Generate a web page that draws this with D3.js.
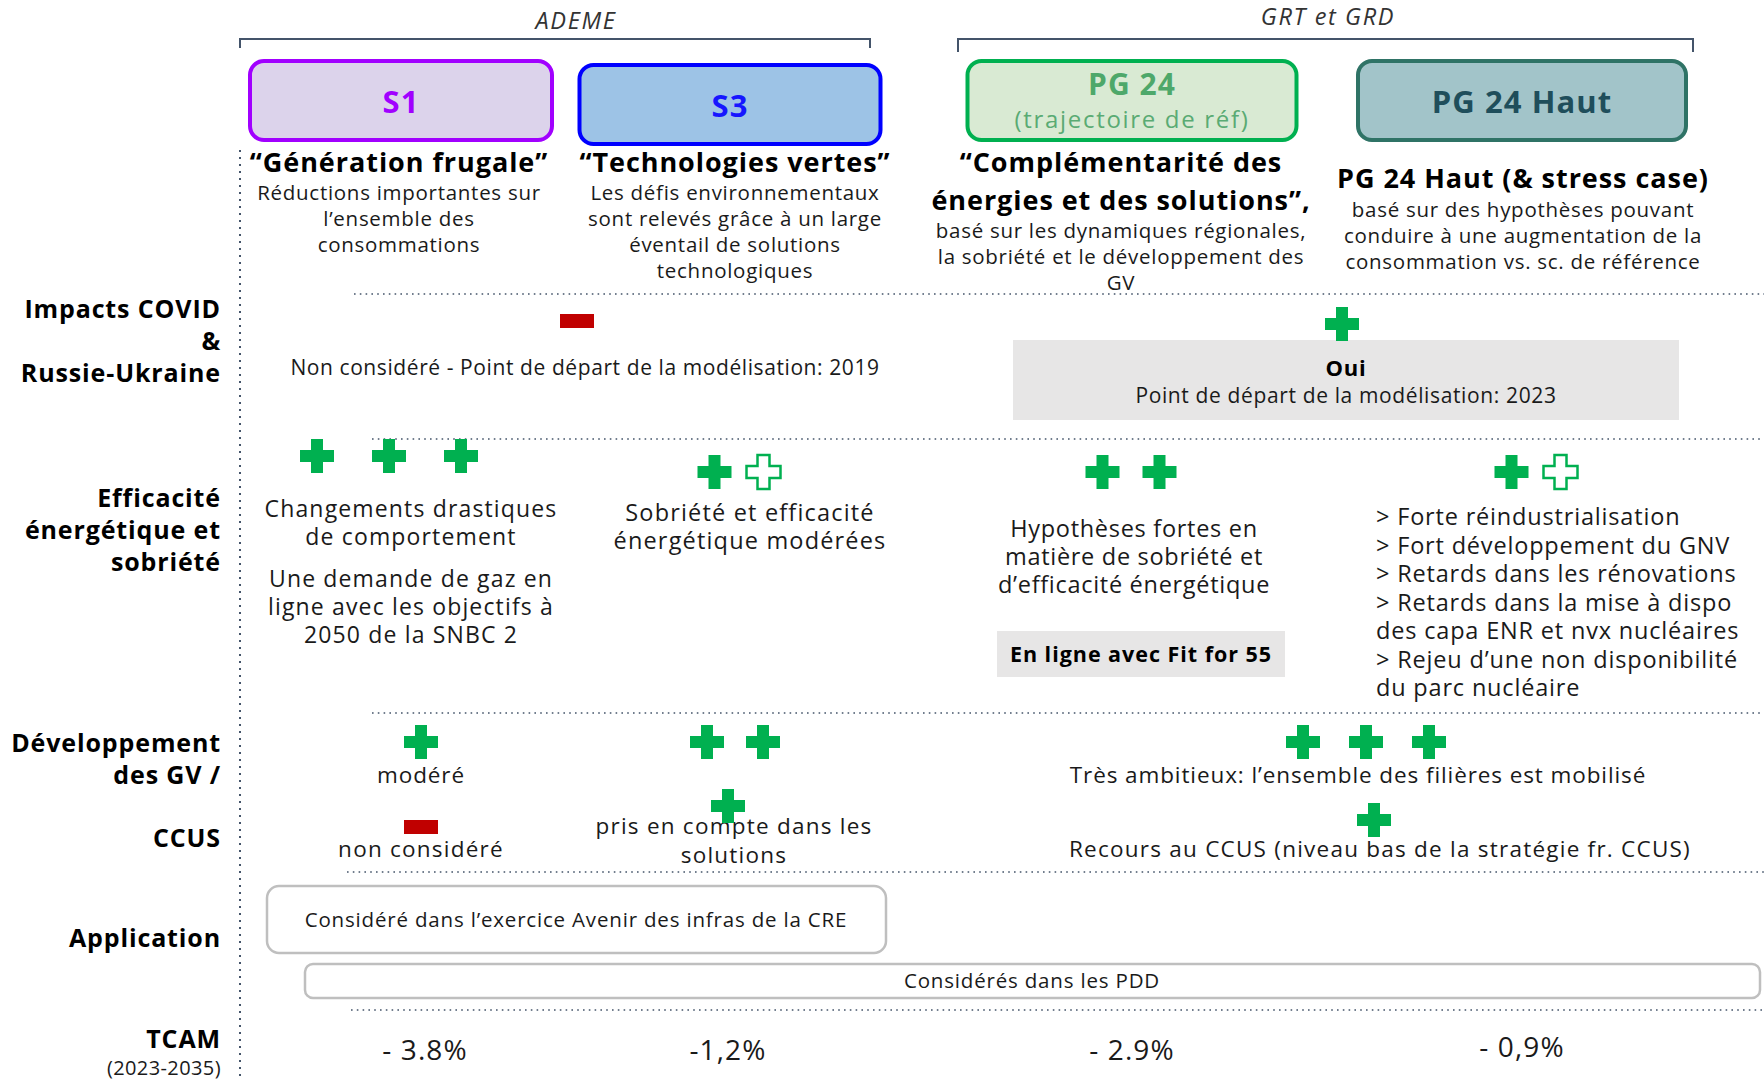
<!DOCTYPE html>
<html>
<head>
<meta charset="utf-8">
<script src="https://cdn.jsdelivr.net/npm/d3@7"></script>
<style>
  body { margin: 0; background: #fff; }
  svg { display: block; font-family: "Open Sans", sans-serif; }
</style>
</head>
<body>
<svg id="chart"></svg>
<script>
// --- data ---
const scenarios = ['S1', 'S3', 'PG 24', 'PG 24 Haut']
const boxSubtitles = ['', '', '(trajectoire de réf)', '']
const groupNames = ['ADEME', 'GRT et GRD']
const groupMembers = [['S1', 'S3'], ['PG 24', 'PG 24 Haut']]

const titles = [
  ['“Génération frugale”'],
  ['“Technologies vertes”'],
  ['“Complémentarité des', 'énergies et des solutions”,'],
  ['PG 24 Haut (& stress case)']
]
const descriptions = [
  ['Réductions importantes sur', 'l’ensemble des', 'consommations'],
  ['Les défis environnementaux', 'sont relevés grâce à un large', 'éventail de solutions', 'technologiques'],
  ['basé sur les dynamiques régionales,', 'la sobriété et le développement des', 'GV'],
  ['basé sur des hypothèses pouvant', 'conduire à une augmentation de la', 'consommation vs. sc. de référence']
]

const rowLabels = [
  ['Impacts COVID', '&', 'Russie-Ukraine'],
  ['Efficacité', 'énergétique et', 'sobriété'],
  ['Développement', 'des GV /'],
  ['CCUS'],
  ['Application'],
  ['TCAM']
]

// COVID row, per group
const covidSigns = ['minus', 'plus']
const covidTexts = [
  ['Non considéré - Point de départ de la modélisation: 2019'],
  ['Oui', 'Point de départ de la modélisation: 2023']
]

// efficiency row: 1 = full plus, 0 = half (outlined) plus
const efficacitePlus = [[1, 1, 1], [1, 0], [1, 1], [1, 0]]
const efficaciteTexts = [
  ['Changements drastiques', 'de comportement'],
  ['Sobriété et efficacité', 'énergétique modérées'],
  ['Hypothèses fortes en', 'matière de sobriété et', 'd’efficacité énergétique'],
  ['> Forte réindustrialisation', '> Fort développement du GNV', '> Retards dans les rénovations',
   '> Retards dans la mise à dispo', 'des capa ENR et nvx nucléaires', '> Rejeu d’une non disponibilité',
   'du parc nucléaire']
]
const snbcText = ['Une demande de gaz en', 'ligne avec les objectifs à', '2050 de la SNBC 2']
const fitFor55 = 'En ligne avec Fit for 55'

// GV row : S1, S3, GRT group
const gvPlus = [[1], [1, 1], [1, 1, 1]]
const gvTexts = [['modéré'], [], ['Très ambitieux: l’ensemble des filières est mobilisé']]
const ccusSigns = ['minus', 'plus', 'plus']
const ccusTexts = [['non considéré'], ['pris en compte dans les', 'solutions'], ['Recours au CCUS (niveau bas de la stratégie fr. CCUS)']]

const applicationTexts = ['Considéré dans l’exercice Avenir des infras de la CRE', 'Considérés dans les PDD']

const tcam = [-3.8, -1.2, -2.9, -0.9]
const tcamLabels = ['- 3.8%', '-1,2%', '- 2.9%', '- 0,9%']
const tcamPeriod = '(2023-2035)'

// --- styling ---
const boxFill = ['#dcd3eb', '#9dc3e6', '#d9ead3', '#a2c4c9']
const boxStroke = ['#a100ff', '#0000ff', '#00b050', '#2f7366']
const boxText = ['#a100ff', '#1616ff', '#4ea86a', '#1f4e5b']
const green = '#00b050'
const red = '#c00000'
const slate = '#44546a'
const ink = '#1a1a1a'

const width = 1764
const height = 1080

const svg = d3.select('#chart')
  .attr('width', width)
  .attr('height', height)

// column centres and row baselines
const colX = d3.scaleOrdinal().domain(scenarios).range([401, 730, 1132, 1522])
const boxW = d3.scaleOrdinal().domain(scenarios).range([302, 301, 329, 328])
const boxY = d3.scaleOrdinal().domain(scenarios).range([61, 65, 61, 61])
const rowY = d3.scaleOrdinal().domain(d3.range(rowLabels.length)).range([318, 507, 752, 847, 947, 1048])

function lines(g, arr, x, y, dy, opts) {
  let t = g.append('text')
    .attr('x', x).attr('y', y)
    .attr('text-anchor', opts.anchor || 'middle')
    .attr('font-size', opts.size)
    .attr('font-weight', opts.weight || 400)
    .attr('font-style', opts.style || 'normal')
    .attr('letter-spacing', opts.ls || '0.035em')
    .attr('fill', opts.color || ink)
  t.selectAll('tspan').data(arr).enter()
    .append('tspan')
    .attr('x', x)
    .attr('dy', (d, i) => i ? dy : 0)
    .text(d => d)
  return t
}

const plusPath = 'M-6,-17H6V-6H17V6H6V17H-6V6H-17V-6H-6Z'
function plus(g, x, y, full) {
  g.append('path')
    .attr('d', plusPath)
    .attr('transform', `translate(${x},${y})`)
    .attr('fill', full ? green : '#fff')
    .attr('stroke', green)
    .attr('stroke-width', full ? 0 : 2.5)
}
function plusRow(g, flags, cx, y, step) {
  flags.forEach((f, i) => plus(g, cx + (i - (flags.length - 1) / 2) * step, y, f))
}
function minus(g, x, y) {
  g.append('rect').attr('x', x - 17).attr('y', y - 7).attr('width', 34).attr('height', 14).attr('fill', red)
}

// --- group brackets ---
const bracketX = [[240, 870], [958, 1693]]
const bracketTick = [9, 13]
const bracketLabel = [[576, 29], [1328, 25]]
groupNames.forEach((name, i) => {
  let [x0, x1] = bracketX[i]
  svg.append('path')
    .attr('d', `M${x0},${39 + bracketTick[i]}V39H${x1}V${39 + bracketTick[i]}`)
    .attr('fill', 'none').attr('stroke', slate).attr('stroke-width', 2)
  lines(svg, [name], bracketLabel[i][0], bracketLabel[i][1], 0, { size: 23.5, style: 'italic', color: '#333', ls: '0.07em' })
})

// --- scenario boxes ---
const boxes = svg.append('g')
scenarios.forEach((s, i) => {
  let w = boxW(s)
  boxes.append('rect')
    .attr('x', colX(s) - w / 2).attr('y', boxY(s))
    .attr('width', w).attr('height', 79)
    .attr('rx', 14)
    .attr('fill', boxFill[i]).attr('stroke', boxStroke[i]).attr('stroke-width', 4)
  if (boxSubtitles[i]) {
    lines(boxes, [s], colX(s), boxY(s) + 34, 0, { size: 30, weight: 700, color: boxText[i] })
    lines(boxes, [boxSubtitles[i]], colX(s), boxY(s) + 67, 0, { size: 24, color: '#5aab73', ls: '0.07em' })
  } else {
    lines(boxes, [s], colX(s), boxY(s) + 52, 0, { size: 31, weight: 700, color: boxText[i] })
  }
})

// titles and descriptions
const titleX = [399, 735, 1121, 1523]
const titleY = [172, 172, 172, 188]
const descY = [200, 200, 238, 217]
scenarios.forEach((s, i) => {
  lines(svg, titles[i], titleX[i], titleY[i], 38, { size: 27, weight: 700, color: '#000', ls: '0.035em' })
  lines(svg, descriptions[i], titleX[i], descY[i], 26, { size: 20.5, ls: '0.035em' })
})

// --- row labels ---
rowLabels.forEach((l, i) => {
  lines(svg, l, 221, rowY(i), 32, { size: 25, weight: 700, anchor: 'end', color: '#000', ls: '0.035em' })
})
lines(svg, [tcamPeriod], 221, 1075, 0, { size: 20, anchor: 'end', ls: '0.02em' })

// --- dotted grid ---
svg.append('line')
  .attr('x1', 240).attr('x2', 240).attr('y1', 150).attr('y2', height)
  .attr('stroke', slate).attr('stroke-width', 2).attr('stroke-dasharray', '2,5')
const sepY = [294, 439, 713, 872, 1010]
const sepX = [354, 372, 372, 347, 351]
sepY.forEach((y, i) => {
  svg.append('line')
    .attr('x1', sepX[i]).attr('x2', width).attr('y1', y).attr('y2', y)
    .attr('stroke', slate).attr('stroke-width', 1.6).attr('stroke-dasharray', '1.6,4.2')
})

// --- COVID row ---
const covid = svg.append('g')
minus(covid, 577, 321)
lines(covid, covidTexts[0], 585, 375, 0, { size: 21, ls: '0.028em' })
covid.append('rect').attr('x', 1013).attr('y', 340).attr('width', 666).attr('height', 80).attr('fill', '#e7e6e6')
plus(covid, 1342, 324, covidSigns[1] === 'plus')
lines(covid, [covidTexts[1][0]], 1346, 376, 0, { size: 22, weight: 700, color: '#000' })
lines(covid, [covidTexts[1][1]], 1346, 403, 0, { size: 21, ls: '0.03em' })

// --- efficiency row ---
const eff = svg.append('g')
const effPlusX = [389, 739, 1131, 1536]
const effPlusStep = [72, 49, 57, 49]
const effPlusY = [456, 472, 472, 472]
efficacitePlus.forEach((f, i) => plusRow(eff, f, effPlusX[i], effPlusY[i], effPlusStep[i]))
lines(eff, efficaciteTexts[0], 411, 517, 28, { size: 23, ls: '0.05em' })
lines(eff, snbcText, 411, 587, 28, { size: 23, ls: '0.05em' })
lines(eff, efficaciteTexts[1], 750, 521, 28, { size: 23.5, ls: '0.05em' })
lines(eff, efficaciteTexts[2], 1134, 537, 28, { size: 23.5, ls: '0.03em' })
eff.append('rect').attr('x', 997).attr('y', 631).attr('width', 288).attr('height', 46).attr('fill', '#e7e6e6')
lines(eff, [fitFor55], 1141, 662, 0, { size: 21.5, weight: 700, color: '#000', ls: '0.045em' })
lines(eff, efficaciteTexts[3], 1376, 525, 28.5, { size: 23.5, anchor: 'start', ls: '0.035em' })

// --- GV / CCUS row ---
const gv = svg.append('g')
const gvX = [421, 735, 1366]
const gvStep = [0, 56, 63]
const gvTextX = [421, 734, 1358]
const ccusX = [421, 728, 1374]
const ccusY = [827, 806, 820]
const ccusTextX = [421, 734, 1380]
gvPlus.forEach((f, i) => {
  plusRow(gv, f, gvX[i], 742, gvStep[i])
  lines(gv, gvTexts[i], gvTextX[i], 783, 0, { size: 22.5, ls: '0.04em' })
  lines(gv, ccusTexts[i], ccusTextX[i], i === 1 ? 834 : 857, 29, { size: 22.5, ls: '0.055em' })
  if (ccusSigns[i] === 'minus') minus(gv, ccusX[i], ccusY[i])
  else plus(gv, ccusX[i], ccusY[i], true)
})

// --- application row ---
const app = svg.append('g')
app.append('rect').attr('x', 267).attr('y', 886).attr('width', 619).attr('height', 67).attr('rx', 12)
  .attr('fill', '#fff').attr('stroke', '#bfbfbf').attr('stroke-width', 2.5)
lines(app, [applicationTexts[0]], 576, 927, 0, { size: 20.5, ls: '0.04em' })
app.append('rect').attr('x', 305).attr('y', 964).attr('width', 1455).attr('height', 34).attr('rx', 8)
  .attr('fill', '#fff').attr('stroke', '#bfbfbf').attr('stroke-width', 2.5)
lines(app, [applicationTexts[1]], 1032, 988, 0, { size: 20.5, ls: '0.04em' })

// --- TCAM row ---
const tcamX = [425, 728, 1132, 1522]
const tcamY = [1060, 1060, 1060, 1057]
tcam.forEach((v, i) => {
  lines(svg, [tcamLabels[i]], tcamX[i], tcamY[i], 0, { size: 28, ls: '0.04em' })
})
</script>
</body>
</html>
